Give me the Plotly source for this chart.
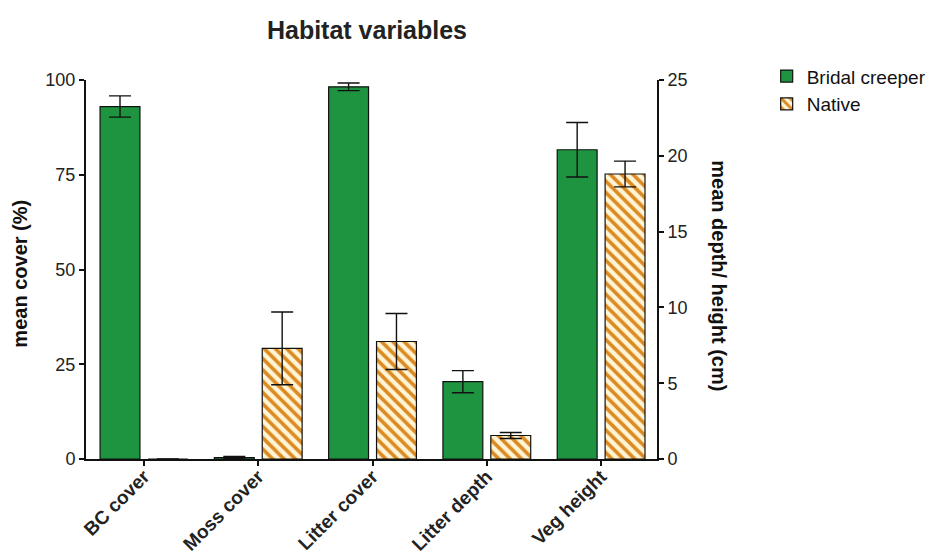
import plotly.graph_objects as go

# Habitat variables: bridal creeper vs native sites
categories = ["BC cover", "Moss cover", "Litter cover", "Litter depth", "Veg height"]

# cover variables (%) on the left axis
cover_cats = ["BC cover", "Moss cover", "Litter cover"]
bc_cover = [93.0, 0.4, 98.2]
bc_cover_err = [2.8, 0.3, 1.0]
native_cover = [0.0, 29.2, 31.0]
native_cover_err = [0.0, 9.6, 7.4]

# depth / height variables (cm) on the right axis
size_cats = ["Litter depth", "Veg height"]
bc_size = [5.1, 20.4]
bc_size_err = [0.73, 1.8]
native_size = [1.55, 18.8]
native_size_err = [0.2, 0.85]

GREEN = "#1f9440"
FONT = "Liberation Sans, Arial, sans-serif"
BAR_W = 0.349
GREEN_OFF = -0.384
NATIVE_OFF = 0.035

native_pattern = dict(shape="\\", fgcolor="#dc8a22", bgcolor="#fff5d6",
                      size=8, solidity=0.45, fillmode="replace")
err_style = dict(type="data", color="#111", thickness=1.4, width=11)

fig = go.Figure()

fig.add_trace(go.Bar(
    x=cover_cats, y=bc_cover, name="Bridal creeper", legendgroup="bc",
    marker=dict(color=GREEN, line=dict(color="#111", width=1.2)),
    width=BAR_W, offset=GREEN_OFF,
    error_y=dict(array=bc_cover_err, **err_style), yaxis="y"))
fig.add_trace(go.Bar(
    x=cover_cats, y=native_cover, name="Native", legendgroup="nat",
    marker=dict(color="#fff5d6", pattern=native_pattern,
                line=dict(color="#111", width=1.2)),
    width=BAR_W, offset=NATIVE_OFF,
    error_y=dict(array=native_cover_err, **err_style), yaxis="y"))
fig.add_trace(go.Bar(
    x=size_cats, y=bc_size, name="Bridal creeper", legendgroup="bc",
    showlegend=False,
    marker=dict(color=GREEN, line=dict(color="#111", width=1.2)),
    width=BAR_W, offset=GREEN_OFF,
    error_y=dict(array=bc_size_err, **err_style), yaxis="y2"))
fig.add_trace(go.Bar(
    x=size_cats, y=native_size, name="Native", legendgroup="nat",
    showlegend=False,
    marker=dict(color="#fff5d6", pattern=native_pattern,
                line=dict(color="#111", width=1.2)),
    width=BAR_W, offset=NATIVE_OFF,
    error_y=dict(array=native_size_err, **err_style), yaxis="y2"))

axis_common = dict(showgrid=False, zeroline=False, showline=True,
                   linecolor="#111", linewidth=2, ticks="outside",
                   ticklen=5, tickwidth=1.5, tickcolor="#111", automargin=False,
                   tickfont=dict(family=FONT, size=18, color="#222"))

fig.update_layout(
    width=941, height=558,
    margin=dict(l=86, r=283, t=80, b=99),
    paper_bgcolor="white", plot_bgcolor="white",
    barmode="overlay",
    font=dict(family=FONT, color="#111"),
    title=dict(text="<b>Habitat variables</b>", x=0.39, xanchor="center",
               y=0.945, yanchor="middle",
               font=dict(family=FONT, size=25, color="#222")),
    xaxis=dict(type="category", categoryorder="array",
               categoryarray=categories, range=[-0.507, 4.489],
               tickangle=-45, showgrid=False, zeroline=False,
               showline=True, linecolor="#111", linewidth=2, automargin=False,
               ticks="outside", ticklen=5, tickwidth=1.5, tickcolor="#111",
               ticklabelstandoff=-8,
               tickfont=dict(family=FONT, size=19, color="#222", weight="bold")),
    yaxis=dict(range=[0, 100], tickvals=[0, 25, 50, 75, 100], **axis_common),
    yaxis2=dict(range=[0, 25], tickvals=[0, 5, 10, 15, 20, 25],
                overlaying="y", side="right", **axis_common),
    legend=dict(x=1.19, y=1.06, xanchor="left", yanchor="top",
                font=dict(family=FONT, size=19, color="#111"),
                tracegroupgap=0, itemwidth=30, bgcolor="rgba(0,0,0,0)"),
    annotations=[
        dict(text="<b>mean cover (%)</b>", xref="paper", yref="paper",
             x=-0.115, y=0.49, textangle=-90, showarrow=False,
             xanchor="center", yanchor="middle",
             font=dict(family=FONT, size=20, color="#111")),
        dict(text="<b>mean depth/ height (cm)</b>", xref="paper", yref="paper",
             x=1.108, y=0.483, textangle=90, showarrow=False,
             xanchor="center", yanchor="middle",
             font=dict(family=FONT, size=20, color="#111")),
    ],
)

fig.write_html("out.html")
